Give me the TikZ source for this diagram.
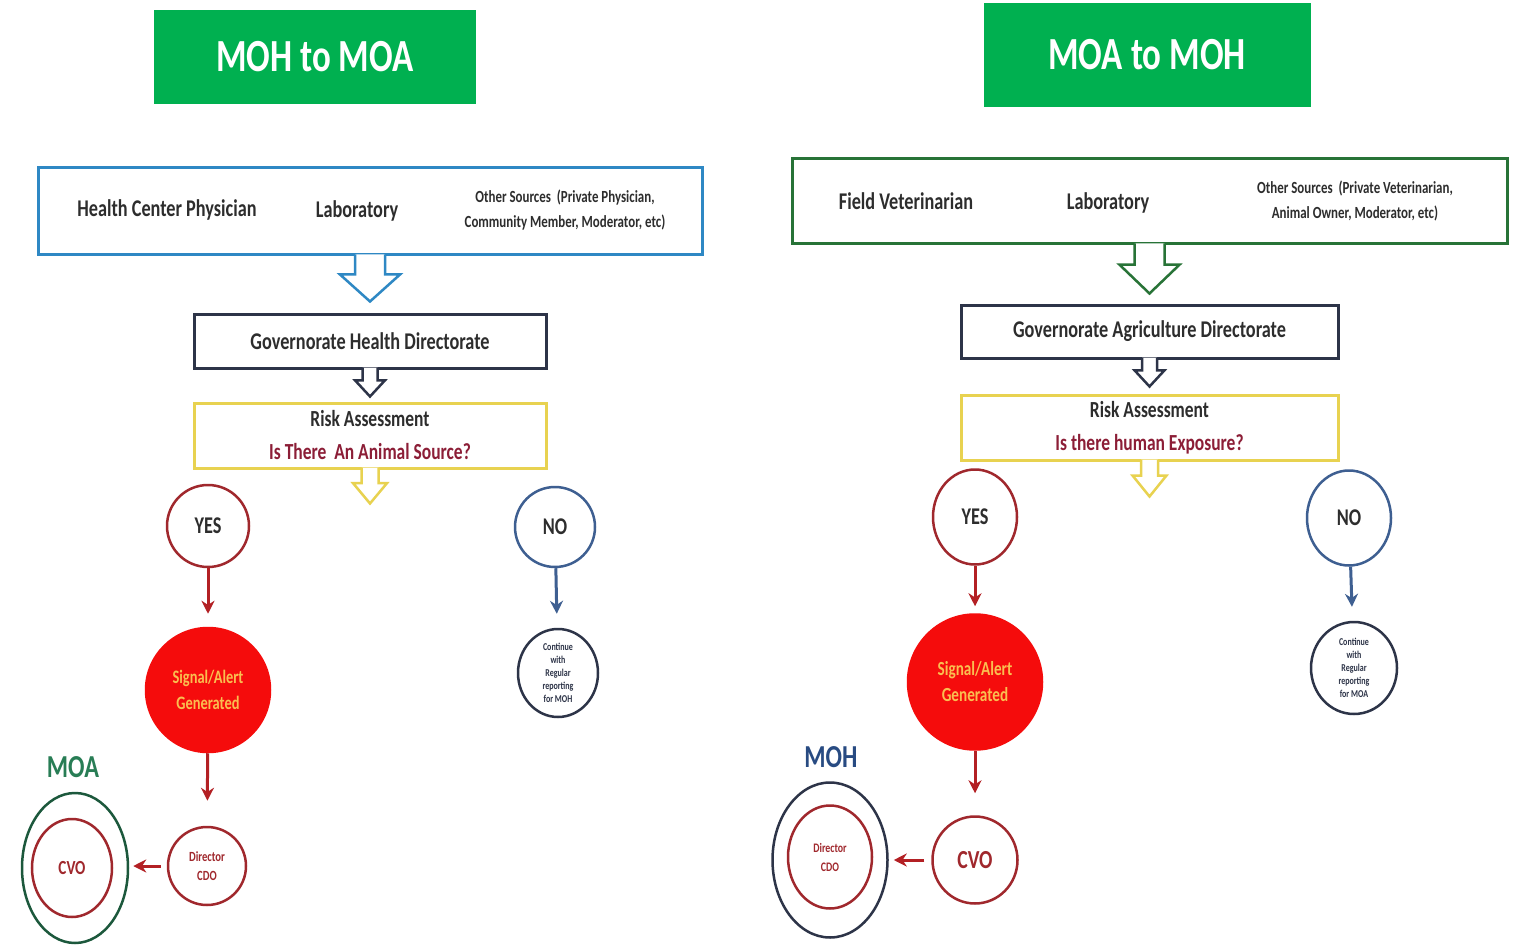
\documentclass[tikz,border=0pt]{standalone}
\usepackage{fontspec}
\setmainfont{Carlito}[FakeStretch=0.76]
\usepackage{tikz}
\usetikzlibrary{shapes.geometric, arrows.meta, calc}

\definecolor{titlegreen}{RGB}{0,176,80}
\definecolor{mohblue}{RGB}{46,136,196}
\definecolor{moagreen}{RGB}{40,115,55}
\definecolor{navy}{RGB}{45,52,72}
\definecolor{riskyellow}{RGB}{232,210,80}
\definecolor{darkred}{RGB}{160,40,45}
\definecolor{noblue}{RGB}{62,95,145}
\definecolor{alertred}{RGB}{245,12,12}
\definecolor{alerttext}{RGB}{250,190,80}
\definecolor{labgreen}{RGB}{40,125,85}
\definecolor{labblue}{RGB}{40,75,130}
\definecolor{txt}{RGB}{45,45,45}
\definecolor{qred}{RGB}{140,30,55}

\tikzstyle{arrow} = [line width=3pt,->,>={Stealth[length=13pt,width=13pt]}]
\tikzstyle{titlebox} = [fill=titlegreen, text=white, font=\fontsize{46}{50}\selectfont\bfseries]
\tikzstyle{frame} = [draw, line width=3pt, fill=white, text=txt, align=center]
\tikzstyle{ring} = [draw, circle, line width=2.5pt, inner sep=0pt, align=center]
\tikzstyle{oval} = [draw, ellipse, line width=2.5pt, inner sep=0pt, align=center]
\tikzstyle{hollow} = [line width=2.5pt, fill=white, line join=miter]
\tikzstyle{lbl} = [text=txt, font=\fontsize{24}{28}\selectfont\bfseries]
\tikzstyle{smalllbl} = [text=txt, align=center, font=\fontsize{17}{25}\selectfont\bfseries]

% hollow block arrow: colour, from node, tip, head half width
\newcommand{\hollowarrow}[4]{%
  \draw[hollow, draw=#1] ($(#2.south)+(-#4/2,-2)$) -- ($(#2.south)!0.4!(#3)+(-#4/2,0)$)
    -- ++(-#4/2,0) -- (#3) -- ($(#2.south)!0.4!(#3)+(#4,0)$) -- ++(-#4/2,0)
    -- ($(#2.south)+(#4/2,-2)$);}

\begin{document}
\begin{tikzpicture}[x=1pt, y=-1pt]
	\useasboundingbox[fill=white] (0,0) rectangle (1521,952);

	% MOH to MOA
	\node[titlebox, minimum width=322pt, minimum height=94pt] (titleL) at (315,57) {MOH to MOA};
	\node[frame, draw=mohblue, minimum width=664pt, minimum height=87pt] (srcL) at (370,211.5) {};
	\node[lbl] (hcp) at (167,210) {Health Center Physician};
	\node[lbl] (labL) at (357,211) {Laboratory};
	\node[smalllbl] (othL) at (565,210) {Other Sources \ (Private Physician,\\Community Member, Moderator, etc)};
	\node[frame, draw=navy, minimum width=352pt, minimum height=54pt, font=\fontsize{24}{28}\selectfont\bfseries] (govL) at (370,341) {Governorate Health Directorate};
	\node[frame, draw=riskyellow, minimum width=352pt, minimum height=65pt, font=\fontsize{23}{33}\selectfont\bfseries] (riskL) at (370,435.5) {Risk Assessment\\\color{qred}Is There \ An Animal Source?};
	\coordinate (t1L) at ($(srcL.south)+(0,45)$);
	\coordinate (t2L) at ($(govL.south)+(0,27)$);
	\coordinate (t3L) at ($(riskL.south)+(0,34)$);
	\hollowarrow{mohblue}{srcL}{t1L}{30}
	\hollowarrow{navy}{govL}{t2L}{15}
	\hollowarrow{riskyellow}{riskL}{t3L}{17}

	\node[ring, draw=darkred, minimum size=82pt, text=txt, font=\fontsize{24}{28}\selectfont\bfseries] (yesL) at (208,526) {YES};
	\node[ring, draw=noblue, minimum size=80pt, text=txt, font=\fontsize{24}{28}\selectfont\bfseries] (noL) at (555,527) {NO};
	\node[ring, draw=alertred, fill=alertred, minimum size=124pt, text=alerttext, font=\fontsize{19}{26}\selectfont\bfseries] (sigL) at (208,690) {Signal/Alert\\Generated};
	\node[oval, draw=navy, minimum width=80pt, minimum height=88pt, text=navy, font=\fontsize{10.5}{13}\selectfont\bfseries] (contL) at (558,673) {Continue\\with\\Regular\\reporting\\for MOH};
	\node[ring, draw=darkred, minimum size=78pt, text=darkred, font=\fontsize{14}{19}\selectfont\bfseries] (dirL) at (207,866) {Director\\CDO};
	\node[text=labgreen, font=\fontsize{32}{36}\selectfont\bfseries] (moa) at (73,767) {MOA};
	\node[oval, draw=labgreen!70!black, minimum width=106pt, minimum height=150pt] (outerL) at (75,868) {};
	\node[oval, draw=darkred, minimum width=80pt, minimum height=98pt, text=darkred, font=\fontsize{20}{24}\selectfont\bfseries] (cvoL) at (72,868) {CVO};

	\draw[arrow, darkred!80!red, shorten >=13pt] (yesL) -- (sigL);
	\draw[arrow, noblue, shorten >=14pt] (noL) -- (contL);
	\draw[arrow, darkred!80!red, shorten >=25pt] (sigL) -- (dirL);
	\draw[arrow, darkred!80!red, shorten <=6pt, shorten >=4pt] (dirL.west) -- (dirL.west -| outerL.east);

	% MOA to MOH
	\node[titlebox, minimum width=327pt, minimum height=104pt] (titleR) at (1147,55) {MOA to MOH};
	\node[frame, draw=moagreen, minimum width=715pt, minimum height=85pt] (srcR) at (1149.5,201.5) {};
	\node[lbl] (fv) at (906,201) {Field Veterinarian};
	\node[lbl] (labR) at (1108,203) {Laboratory};
	\node[smalllbl] (othR) at (1355,201) {Other Sources \ (Private Veterinarian,\\Animal Owner, Moderator, etc)};
	\node[frame, draw=navy, minimum width=377pt, minimum height=53pt, font=\fontsize{24}{28}\selectfont\bfseries] (govR) at (1149.5,331.5) {Governorate Agriculture Directorate};
	\node[frame, draw=riskyellow, minimum width=377pt, minimum height=65pt, font=\fontsize{23}{33}\selectfont\bfseries] (riskR) at (1149.5,427.5) {Risk Assessment\\\color{qred}Is there human Exposure?};
	\coordinate (t1R) at ($(srcR.south)+(0,48)$);
	\coordinate (t2R) at ($(govR.south)+(0,27)$);
	\coordinate (t3R) at ($(riskR.south)+(0,35)$);
	\hollowarrow{moagreen}{srcR}{t1R}{30}
	\hollowarrow{navy}{govR}{t2R}{15}
	\hollowarrow{riskyellow}{riskR}{t3R}{17}

	\node[oval, draw=darkred, minimum width=84pt, minimum height=95pt, text=txt, font=\fontsize{24}{28}\selectfont\bfseries] (yesR) at (975,517) {YES};
	\node[oval, draw=noblue, minimum width=84pt, minimum height=95pt, text=txt, font=\fontsize{24}{28}\selectfont\bfseries] (noR) at (1349,518) {NO};
	\node[oval, draw=alertred, fill=alertred, minimum width=134pt, minimum height=135pt, text=alerttext, font=\fontsize{20}{26}\selectfont\bfseries] (sigR) at (975,682) {Signal/Alert\\Generated};
	\node[oval, draw=navy, minimum width=86pt, minimum height=92pt, text=navy, font=\fontsize{10.5}{13}\selectfont\bfseries] (contR) at (1354,668) {Continue\\with\\Regular\\reporting\\for MOA};
	\node[oval, draw=darkred, minimum width=85pt, minimum height=87pt, text=darkred, font=\fontsize{26}{30}\selectfont\bfseries] (cvoR) at (975,860) {CVO};
	\node[text=labblue, font=\fontsize{32}{36}\selectfont\bfseries] (moh) at (831,757) {MOH};
	\node[oval, draw=navy, minimum width=115pt, minimum height=155pt] (outerR) at (830,860) {};
	\node[oval, draw=darkred, minimum width=84pt, minimum height=103pt, text=darkred, font=\fontsize{13}{19}\selectfont\bfseries] (dirR) at (830,857) {Director\\CDO};

	\draw[arrow, darkred!80!red, shorten >=7pt] (yesR) -- (sigR);
	\draw[arrow, noblue, shorten >=14pt] (noR) -- (contR);
	\draw[arrow, darkred!80!red, shorten >=22pt] (sigR) -- (cvoR);
	\draw[arrow, darkred!80!red, shorten <=7pt, shorten >=5pt] (cvoR.west) -- (cvoR.west -| outerR.east);
\end{tikzpicture}
\end{document}
